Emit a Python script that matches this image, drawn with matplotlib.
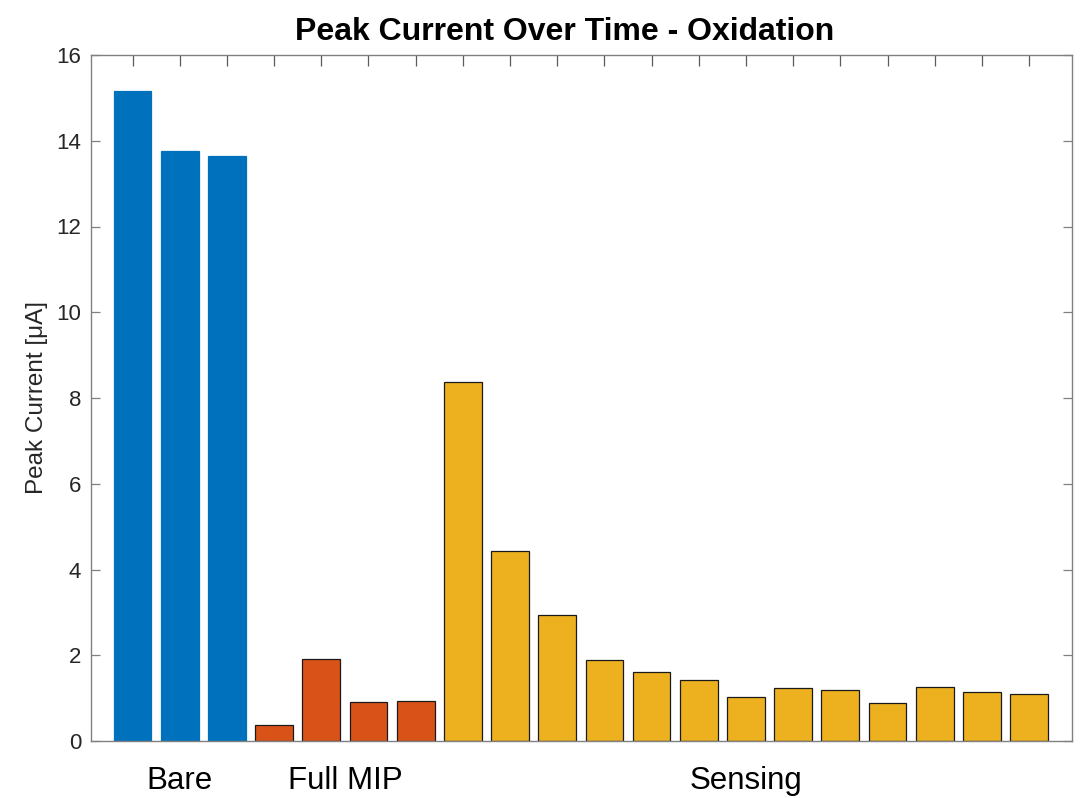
import matplotlib
matplotlib.use("Agg")
import matplotlib.pyplot as plt
import numpy as np

plt.rcParams['font.family'] = ['Liberation Sans', 'DejaVu Sans']

bare = [15.15, 13.75, 13.65]
full_mip = [0.37, 1.92, 0.90, 0.93]
sensing = [8.37, 4.43, 2.94, 1.89, 1.61, 1.42, 1.03, 1.24, 1.19, 0.89, 1.27, 1.14, 1.10]
group_labels = ["Bare", "Full MIP", "Sensing"]
colors = ["#0072BD", "#D95319", "#EDB120"]
yticks = [0, 2, 4, 6, 8, 10, 12, 14, 16]

fig = plt.figure(figsize=(10.81, 7.98), dpi=100)
ax = fig.add_axes([91/1081, (798-741)/798, (1072-91)/1081, (741-55)/798])

groups = [bare, full_mip, sensing]
start = 1
for vals, col in zip(groups, colors):
    x = np.arange(start, start + len(vals))
    edge = col if col == colors[0] else "#1a1a1a"
    ax.bar(x, vals, width=0.8, color=col, edgecolor=edge, linewidth=0.9, zorder=2)
    start += len(vals)

n = start - 1
ax.set_xlim(0.12, n + 0.91)
ax.set_ylim(0, 16)
ax.set_yticks(yticks)
ax.set_xticks(np.arange(1, n + 1))
ax.set_xticklabels([])

for s in ax.spines.values():
    s.set_color("#808080")
    s.set_linewidth(1.0)
    s.set_zorder(3)

ax.tick_params(axis='x', direction='in', length=8, width=0.9, color='#5a5a5a',
               top=True, bottom=True)
ax.tick_params(axis='y', direction='in', length=6.5, width=0.9, color='#808080',
               left=True, right=True, labelsize=16, labelcolor='#262626', pad=7)
for t in ax.get_xticklines() + ax.get_yticklines():
    t.set_zorder(4)

ax.set_ylabel("Peak Current [μA]", fontsize=17.5, color='#262626', labelpad=6)
ax.set_title("Peak Current Over Time - Oxidation", fontsize=23, fontweight='bold',
             pad=11, x=0.4827)

lab_x = [2, 5.52, 14.0]
for lx, lab in zip(lab_x, group_labels):
    ax.text(lx, -0.037, lab, transform=ax.get_xaxis_transform(), ha='center',
            va='top', fontsize=22.5, color='black', clip_on=False)

fig.savefig("out.png", dpi=100)
